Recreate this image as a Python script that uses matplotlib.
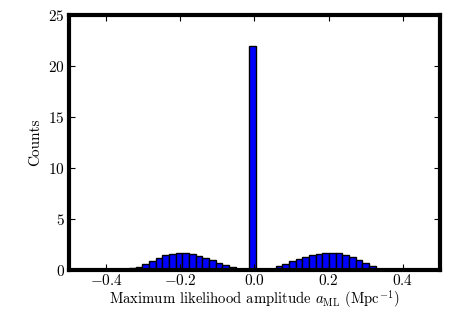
import numpy as np
import matplotlib
matplotlib.use('Agg')
import matplotlib.pyplot as plt

plt.rcParams['font.family'] = 'serif'
plt.rcParams['font.serif'] = ['cmr10']
plt.rcParams['mathtext.fontset'] = 'cm'
plt.rcParams['axes.formatter.use_mathtext'] = True

# histogram of maximum likelihood amplitudes, bin width 0.018
bin_width = 0.018
bin_start = -0.0146     # left edge of the bin holding the spike
bin_index = list(range(-18, 20))
counts = [0.2, 0.3, 0.62, 0.93, 1.2, 1.45, 1.6, 1.66, 1.66, 1.55, 1.4, 1.2,
          0.95, 0.73, 0.5, 0.3, 0.15, 0.05,            # k = -18 .. -1
          22.0,                                        # k = 0
          0.0, 0.03, 0.15, 0.37, 0.58, 0.88, 1.08, 1.3, 1.5, 1.6, 1.7,
          1.7, 1.63, 1.5, 1.28, 1.0, 0.72, 0.4, 0.15]  # k = 1 .. 19

edges = bin_start + bin_width * np.array(bin_index + [bin_index[-1] + 1])
centers = 0.5 * (edges[:-1] + edges[1:])

fig = plt.figure(figsize=(4.63, 3.09), dpi=100)
ax = fig.add_axes([0.149, 0.126, 0.801, 0.825])
ax.hist(centers, bins=edges, weights=counts, color='#0000ff',
        edgecolor='black', linewidth=1.0)

ax.set_xlim(-0.5, 0.5)
ax.set_ylim(0, 25)
ax.set_xticks([-0.4, -0.2, 0.0, 0.2, 0.4])
ax.set_yticks([0, 5, 10, 15, 20, 25])
ax.xaxis.set_major_formatter(matplotlib.ticker.FuncFormatter(lambda v, p: r'$%.1f$' % v if abs(v) > 1e-9 else r'$0.0$'))
ax.yaxis.set_major_formatter(matplotlib.ticker.FuncFormatter(lambda v, p: r'$%d$' % v))
ax.tick_params(direction='in', top=True, right=True, length=4, width=0.8,
               labelsize=11)
ax.tick_params(axis='x', pad=2)
ax.tick_params(axis='y', pad=3)
for s in ax.spines.values():
    s.set_linewidth(3)

ax.set_xlabel(r'Maximum likelihood amplitude $a_{\rm ML}$ (Mpc$^{-1}$)',
              fontsize=10.6, labelpad=0)
ax.set_ylabel('Counts', fontsize=11, labelpad=4)

fig.savefig('out.png', dpi=100)
